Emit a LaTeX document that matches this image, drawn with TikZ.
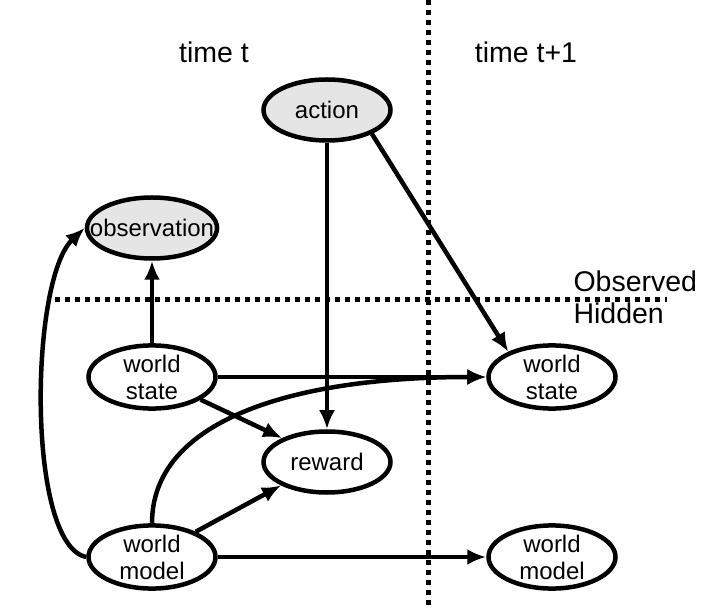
\documentclass[tikz,border=0pt]{standalone}
\usepackage{fontspec}
\setmainfont{Liberation Sans}
\usepackage{tikz}
\usetikzlibrary{shapes.geometric,arrows.meta}

\begin{document}
\begin{tikzpicture}[x=1pt,y=1pt,
  var/.style={ellipse, draw, line width=4.5pt, minimum width=127pt, minimum height=61pt,
    inner sep=0pt, align=center, font=\fontsize{24}{27}\selectfont},
  seen/.style={var, fill=black!10},
  arr/.style={line width=4.5pt, -{Latex[length=19pt,width=16pt]}},
  sep/.style={line width=5pt, dash pattern=on 5pt off 5pt},
  lbl/.style={font=\fontsize{28.5}{32}\selectfont}]
\useasboundingbox (0,0) rectangle (704,608);
% dividing lines
\draw[sep] (428,608) -- (428,0);
\draw[sep] (55,308) -- (667,308);
% headings
\node[lbl] (tnow) at (214,556) {time t};
\node[lbl] (tnext) at (526,556) {time t+1};
\node[lbl, anchor=west] (obsd) at (570,327) {Observed};
\node[lbl, anchor=west] (hidd) at (570,295) {Hidden};
% variables
\node[seen] (action) at (327,498) {action};
\node[seen] (obs) at (152,380) {\makebox[92pt]{observation}};
\node[var] (ws) at (152,231) {world\\state};
\node[var] (reward) at (327,146) {reward};
\node[var] (wm) at (152,51) {world\\model};
\node[var] (ws2) at (552,231) {world\\state};
\node[var] (wm2) at (552,51) {world\\model};
% dependencies
\draw[arr] (ws) -- (obs);
\draw[arr] (action) -- (reward);
\draw[arr] (action.-28) -- (ws2.150);
\draw[arr] (ws) -- (ws2);
\draw[arr] (ws.-25) -- (reward.152);
\draw[arr] (wm.30) -- (reward.207);
\draw[arr] (wm) -- (wm2);
\draw[arr] (wm.north) .. controls +(0,102) and +(-196,0) .. (ws2.west);
\draw[arr] (wm.west) .. controls +(-60,12) and +(-55,-52) .. (obs.west);
\end{tikzpicture}
\end{document}
